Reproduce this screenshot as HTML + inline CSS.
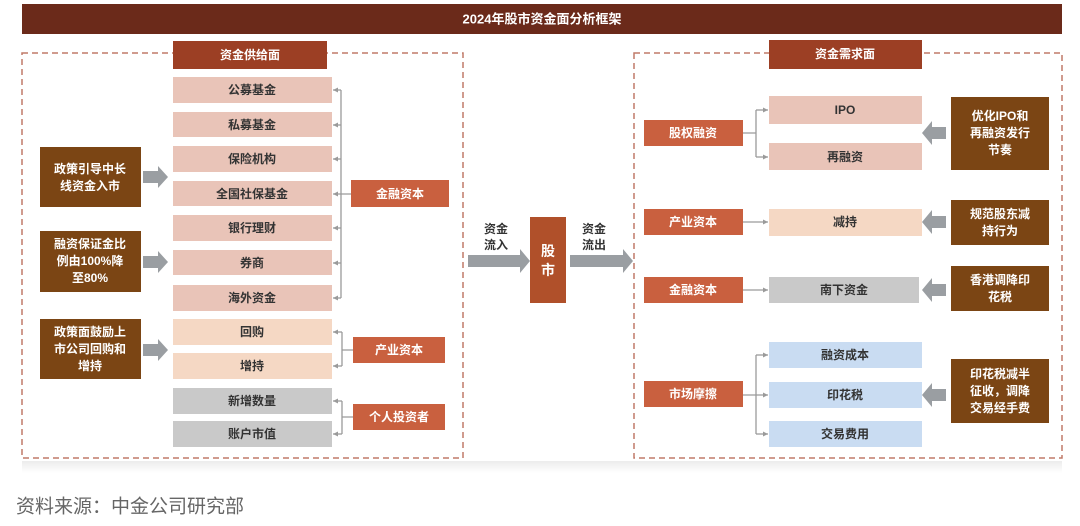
<!DOCTYPE html>
<html><head><meta charset="utf-8"><style>
html,body{margin:0;padding:0;background:#fff;}
svg{display:block;}
text{font-family:"Liberation Sans","Noto Sans CJK SC",sans-serif;font-weight:bold;text-anchor:middle;dominant-baseline:central;}
</style></head><body>
<svg width="1080" height="526" viewBox="0 0 1080 526" xmlns="http://www.w3.org/2000/svg">
<defs>
<marker id="ah" markerWidth="6" markerHeight="6" refX="5" refY="3" orient="auto" markerUnits="userSpaceOnUse"><path d="M0,0.5 L5,3 L0,5.5z" fill="#9a9a9a"/></marker>
<linearGradient id="sh" x1="0" y1="0" x2="0" y2="1"><stop offset="0" stop-color="#ececec"/><stop offset="1" stop-color="#fff"/></linearGradient>
</defs>
<!-- title -->
<rect x="22" y="4" width="1040" height="30" fill="#6b2a1a"/>
<text x="542" y="19" fill="#fff" font-size="13">2024年股市资金面分析框架</text>
<!-- shadow -->
<rect x="22" y="461" width="1040" height="12" fill="url(#sh)"/>
<!-- dashed boxes -->
<rect x="22" y="53" width="441" height="405" fill="none" stroke="#c07a68" stroke-width="1.5" stroke-dasharray="6,4"/>
<rect x="634" y="53" width="428" height="405" fill="none" stroke="#c07a68" stroke-width="1.5" stroke-dasharray="6,4"/>
<!-- headers -->
<rect x="173" y="41" width="154" height="28" fill="#9c3f24"/>
<text x="250" y="55" fill="#fff" font-size="12">资金供给面</text>
<rect x="769" y="40" width="153" height="29" fill="#9c3f24"/>
<text x="845" y="54" fill="#fff" font-size="12">资金需求面</text>
<!-- left items -->
<g font-size="12">
<rect x="173" y="77" width="159" height="26" fill="#e9c4b8"/><text x="252" y="90" fill="#333">公募基金</text>
<rect x="173" y="112" width="159" height="25" fill="#e9c4b8"/><text x="252" y="125" fill="#333">私募基金</text>
<rect x="173" y="146" width="159" height="26" fill="#e9c4b8"/><text x="252" y="159" fill="#333">保险机构</text>
<rect x="173" y="181" width="159" height="25" fill="#e9c4b8"/><text x="252" y="194" fill="#333">全国社保基金</text>
<rect x="173" y="215" width="159" height="26" fill="#e9c4b8"/><text x="252" y="228" fill="#333">银行理财</text>
<rect x="173" y="250" width="159" height="25" fill="#e9c4b8"/><text x="252" y="263" fill="#333">券商</text>
<rect x="173" y="285" width="159" height="26" fill="#e9c4b8"/><text x="252" y="298" fill="#333">海外资金</text>
<rect x="173" y="319" width="159" height="26" fill="#f5d8c4"/><text x="252" y="332" fill="#333">回购</text>
<rect x="173" y="353" width="159" height="26" fill="#f5d8c4"/><text x="252" y="366" fill="#333">增持</text>
<rect x="173" y="388" width="159" height="26" fill="#c9c9c9"/><text x="252" y="401" fill="#333">新增数量</text>
<rect x="173" y="421" width="159" height="26" fill="#c9c9c9"/><text x="252" y="434" fill="#333">账户市值</text>
</g>
<!-- left brackets -->
<g stroke="#9a9a9a" stroke-width="1.3" fill="none">
<path d="M341,90 V298"/>
<path d="M341,90 H333" marker-end="url(#ah)"/><path d="M341,125 H333" marker-end="url(#ah)"/>
<path d="M341,159 H333" marker-end="url(#ah)"/><path d="M351,194 H333" marker-end="url(#ah)"/>
<path d="M341,228 H333" marker-end="url(#ah)"/><path d="M341,263 H333" marker-end="url(#ah)"/>
<path d="M341,298 H333" marker-end="url(#ah)"/>
<path d="M342,332 V366 M342,350 H353"/>
<path d="M342,332 H333" marker-end="url(#ah)"/><path d="M342,366 H333" marker-end="url(#ah)"/>
<path d="M342,401 V434 M342,417 H353"/>
<path d="M342,401 H333" marker-end="url(#ah)"/><path d="M342,434 H333" marker-end="url(#ah)"/>
</g>
<g font-size="12" fill="#fff">
<rect x="351" y="180" width="98" height="27" fill="#c9603f"/><text x="400" y="194">金融资本</text>
<rect x="353" y="337" width="92" height="26" fill="#c9603f"/><text x="399" y="350">产业资本</text>
<rect x="353" y="404" width="92" height="26" fill="#c9603f"/><text x="399" y="417">个人投资者</text>
</g>
<!-- left policy boxes -->
<g font-size="12" fill="#fff">
<rect x="40" y="147" width="101" height="60" fill="#7b4514"/>
<text x="90" y="169">政策引导中长</text><text x="90" y="186">线资金入市</text>
<rect x="40" y="231" width="101" height="61" fill="#7b4514"/>
<text x="90" y="244">融资保证金比</text><text x="90" y="261">例由100%降</text><text x="90" y="278">至80%</text>
<rect x="40" y="319" width="101" height="60" fill="#7b4514"/>
<text x="90" y="332">政策面鼓励上</text><text x="90" y="349">市公司回购和</text><text x="90" y="366">增持</text>
</g>
<g fill="#9a9ea2">
<path d="M143,171 H158 V166 L168,177 L158,188 V183 H143z"/>
<path d="M143,256 H158 V251 L168,262 L158,273 V268 H143z"/>
<path d="M143,344 H158 V339 L168,350 L158,361 V356 H143z"/>
</g>
<!-- center -->
<path d="M468,255 H520 V249 L530,261 L520,273 V267 H468z" fill="#9a9ea2"/>
<path d="M570,255 H623 V249 L633,261 L623,273 V267 H570z" fill="#9a9ea2"/>
<rect x="530" y="217" width="36" height="86" fill="#b0502a"/>
<text x="548" y="251" fill="#fff" font-size="14">股</text>
<text x="548" y="270" fill="#fff" font-size="14">市</text>
<g font-size="12" fill="#333">
<text x="496" y="229">资金</text><text x="496" y="245">流入</text>
<text x="594" y="229">资金</text><text x="594" y="245">流出</text>
</g>
<!-- right side -->
<g font-size="12" fill="#fff">
<rect x="644" y="120" width="99" height="26" fill="#c9603f"/><text x="693" y="133">股权融资</text>
<rect x="644" y="209" width="99" height="26" fill="#c9603f"/><text x="693" y="222">产业资本</text>
<rect x="644" y="277" width="99" height="26" fill="#c9603f"/><text x="693" y="290">金融资本</text>
<rect x="644" y="381" width="99" height="26" fill="#c9603f"/><text x="693" y="394">市场摩擦</text>
</g>
<g font-size="12" fill="#333">
<rect x="769" y="96" width="153" height="28" fill="#e9c4b8"/><text x="845" y="110">IPO</text>
<rect x="769" y="143" width="153" height="27" fill="#e9c4b8"/><text x="845" y="157">再融资</text>
<rect x="769" y="209" width="153" height="27" fill="#f5d8c4"/><text x="845" y="222">减持</text>
<rect x="769" y="277" width="150" height="26" fill="#c9c9c9"/><text x="844" y="290">南下资金</text>
<rect x="769" y="342" width="153" height="26" fill="#c9dcf2"/><text x="845" y="355">融资成本</text>
<rect x="769" y="382" width="153" height="26" fill="#c9dcf2"/><text x="845" y="395">印花税</text>
<rect x="769" y="421" width="153" height="26" fill="#c9dcf2"/><text x="845" y="434">交易费用</text>
</g>
<g stroke="#9a9a9a" stroke-width="1.3" fill="none">
<path d="M743,133 H756 M756,110 V157"/>
<path d="M756,110 H768" marker-end="url(#ah)"/><path d="M756,157 H768" marker-end="url(#ah)"/>
<path d="M743,222 H768" marker-end="url(#ah)"/>
<path d="M743,290 H768" marker-end="url(#ah)"/>
<path d="M756,355 V434"/>
<path d="M756,355 H768" marker-end="url(#ah)"/><path d="M743,395 H768" marker-end="url(#ah)"/><path d="M756,434 H768" marker-end="url(#ah)"/>
</g>
<g font-size="12" fill="#fff">
<rect x="951" y="97" width="98" height="73" fill="#7b4514"/>
<text x="1000" y="116">优化IPO和</text><text x="1000" y="133">再融资发行</text><text x="1000" y="150">节奏</text>
<rect x="951" y="200" width="98" height="45" fill="#7b4514"/>
<text x="1000" y="214">规范股东减</text><text x="1000" y="231">持行为</text>
<rect x="951" y="266" width="98" height="45" fill="#7b4514"/>
<text x="1000" y="280">香港调降印</text><text x="1000" y="297">花税</text>
<rect x="951" y="359" width="98" height="64" fill="#7b4514"/>
<text x="1000" y="374">印花税减半</text><text x="1000" y="391">征收，调降</text><text x="1000" y="408">交易经手费</text>
</g>
<g fill="#9a9ea2">
<path d="M946,127 H932 V121 L922,133 L932,145 V139 H946z"/>
<path d="M946,216 H932 V210 L922,222 L932,234 V228 H946z"/>
<path d="M946,284 H932 V278 L922,290 L932,302 V296 H946z"/>
<path d="M946,389 H932 V383 L922,395 L932,407 V401 H946z"/>
</g>
<text x="16" y="507" fill="#666" font-size="19" style="text-anchor:start;font-weight:normal">资料来源：中金公司研究部</text>
</svg>
</body></html>
